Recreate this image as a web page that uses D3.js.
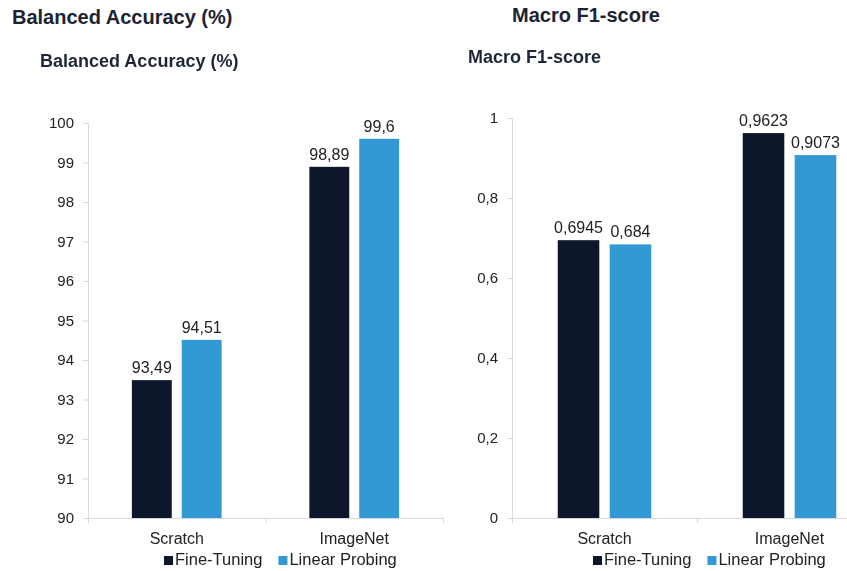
<!DOCTYPE html>
<html>
<head>
<meta charset="utf-8">
<script src="https://cdn.jsdelivr.net/npm/d3@7/dist/d3.min.js"></script>
<style>
  html, body { margin: 0; padding: 0; background: #ffffff; }
  svg { display: block; font-family: "Liberation Sans", Arial, sans-serif; }
</style>
</head>
<body>
<svg id="chart" width="847" height="571"></svg>
<script>
// Categories and series
const categories = ["Scratch", "ImageNet"];
const series = ["Fine-Tuning", "Linear Probing"];

// Balanced accuracy (%) per category, one array per series
const accFineTuning = [93.49, 98.89];
const accLinearProbing = [94.51, 99.6];
const accTicks = [90, 91, 92, 93, 94, 95, 96, 97, 98, 99, 100];

// Macro F1-score per category, one array per series
const f1FineTuning = [0.6945, 0.9623];
const f1LinearProbing = [0.684, 0.9073];
const f1Ticks = [0, 0.2, 0.4, 0.6, 0.8, 1];

const colors = { "Fine-Tuning": "#08182b", "Linear Probing": "#3399d4" };
const ink = "#1c2434";

// Decimal comma formatting
const locale = d3.formatLocale({ decimal: ",", thousands: ".", grouping: [3], currency: ["", "€"] });
const fmt = locale.format("~g");

const svg = d3.select("#chart");

// Soft rendering of the chart panels
const defs = svg.append("defs");
defs.append("filter").attr("id", "soft")
  .attr("x", "-5%").attr("y", "-5%").attr("width", "110%").attr("height", "110%")
  .append("feGaussianBlur").attr("stdDeviation", 0.45);

// Page headings
svg.append("text").attr("x", 12).attr("y", 24)
  .attr("font-size", 20).attr("font-weight", "bold").attr("fill", ink)
  .text("Balanced Accuracy (%)");
svg.append("text").attr("x", 512).attr("y", 22)
  .attr("font-size", 20).attr("font-weight", "bold").attr("fill", ink)
  .text("Macro F1-score");

function drawPanel(cfg) {
  const g = svg.append("g").attr("filter", "url(#soft)");

  g.append("text").attr("x", cfg.titleX).attr("y", cfg.titleY)
    .attr("font-size", 18).attr("font-weight", "bold").attr("fill", "#1f2838")
    .text(cfg.title);

  const x = d3.scaleBand().domain(categories).range([cfg.left, cfg.right]);
  const bw = x.bandwidth();
  const xs = d3.scaleBand().domain(series).range([0, bw])
    .paddingInner(0.2).paddingOuter(0.88);
  const y = d3.scaleLinear().domain(cfg.domain).range([cfg.bottom, cfg.top]);

  // Y axis
  const yAxis = g.append("g").attr("transform", `translate(${cfg.left},0)`)
    .call(d3.axisLeft(y).tickValues(cfg.ticks).tickFormat(fmt).tickSize(5).tickPadding(9));
  yAxis.select(".domain").attr("stroke", "#d9d9d9");
  yAxis.selectAll(".tick line").attr("stroke", "#d9d9d9");
  yAxis.selectAll(".tick text").attr("font-size", 15).attr("fill", "#222")
    .attr("font-family", "Liberation Sans, Arial, sans-serif");

  // X axis line with ticks at category boundaries
  g.append("line").attr("x1", cfg.left).attr("x2", cfg.right)
    .attr("y1", cfg.bottom + 0.5).attr("y2", cfg.bottom + 0.5)
    .attr("stroke", "#d9d9d9");
  const bounds = categories.map(c => x(c)).concat([x(categories[categories.length - 1]) + bw]);
  g.selectAll(".xtick").data(bounds).join("line")
    .attr("x1", d => d + 0.5).attr("x2", d => d + 0.5)
    .attr("y1", cfg.bottom).attr("y2", cfg.bottom + 5)
    .attr("stroke", "#d9d9d9");
  g.selectAll(".xlabel").data(categories).join("text")
    .attr("x", d => x(d) + bw / 2).attr("y", cfg.bottom + 26)
    .attr("text-anchor", "middle").attr("font-size", 16).attr("fill", "#222")
    .text(d => d);

  // Bars
  const rows = [];
  categories.forEach((c, i) => {
    series.forEach(s => rows.push({ cat: c, s: s, v: cfg.values[s][i] }));
  });
  g.selectAll(".bar").data(rows).join("rect")
    .attr("x", d => x(d.cat) + xs(d.s))
    .attr("y", d => y(d.v))
    .attr("width", xs.bandwidth())
    .attr("height", d => cfg.bottom - y(d.v))
    .attr("fill", d => colors[d.s]);

  // Value labels
  g.selectAll(".val").data(rows).join("text")
    .attr("x", d => x(d.cat) + xs(d.s) + xs.bandwidth() / 2)
    .attr("y", d => y(d.v) - 7)
    .attr("text-anchor", "middle").attr("font-size", 16).attr("fill", "#222")
    .text(d => fmt(d.v));

  // Legend
  const leg = g.append("g").attr("transform", `translate(${cfg.legendX},${cfg.bottom + 47})`);
  let lx = 0;
  series.forEach(s => {
    leg.append("rect").attr("x", lx).attr("y", -9).attr("width", 9).attr("height", 9)
      .attr("fill", colors[s]);
    const t = leg.append("text").attr("x", lx + 11).attr("y", 0)
      .attr("font-size", 16.5).attr("fill", "#222").text(s);
    lx += 11 + t.node().getComputedTextLength() + 16;
  });
}

drawPanel({
  title: "Balanced Accuracy (%)", titleX: 40, titleY: 67,
  left: 88, right: 443, top: 123, bottom: 518,
  domain: [90, 100], ticks: accTicks,
  values: { "Fine-Tuning": accFineTuning, "Linear Probing": accLinearProbing },
  legendX: 164
});

drawPanel({
  title: "Macro F1-score", titleX: 468, titleY: 63,
  left: 512, right: 882, top: 118, bottom: 518,
  domain: [0, 1], ticks: f1Ticks,
  values: { "Fine-Tuning": f1FineTuning, "Linear Probing": f1LinearProbing },
  legendX: 593
});
</script>
</body>
</html>
